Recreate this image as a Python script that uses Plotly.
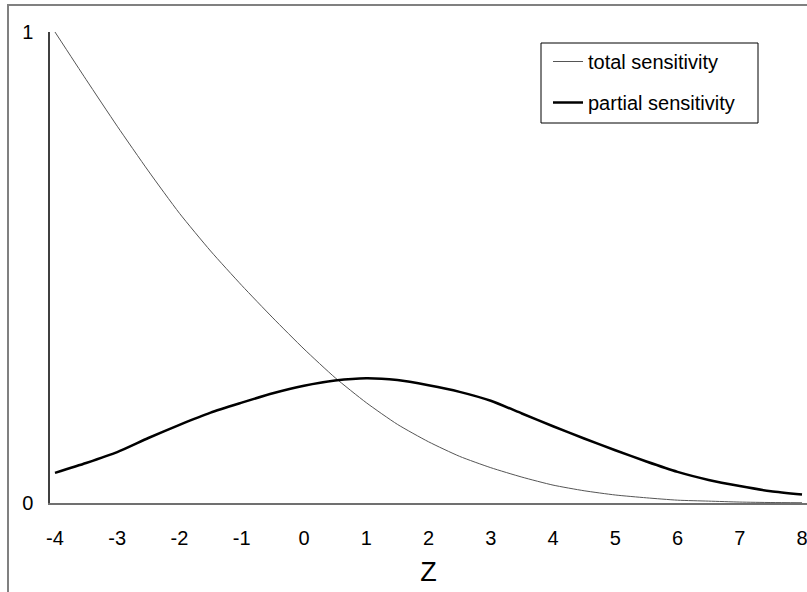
import plotly.graph_objects as go

z = [-4, -3.5, -3, -2.5, -2, -1.5, -1, -0.5, 0, 0.5, 1, 1.5, 2, 2.5, 3, 3.5,
     4, 4.5, 5, 5.5, 6, 6.5, 7, 7.5, 8]
total_sensitivity = [1.0, 0.899, 0.800, 0.705, 0.615, 0.535, 0.462, 0.393, 0.327, 0.266,
                     0.213, 0.167, 0.130, 0.099, 0.075, 0.055, 0.038, 0.026, 0.017,
                     0.011, 0.006, 0.004, 0.002, 0.001, 0.0005]
partial_sensitivity = [0.064, 0.085, 0.108, 0.138, 0.166, 0.192, 0.213, 0.233, 0.249,
                       0.260, 0.265, 0.261, 0.250, 0.236, 0.217, 0.190, 0.163, 0.137,
                       0.112, 0.088, 0.066, 0.049, 0.036, 0.025, 0.018]
x_ticks = list(range(-4, 9))
y_ticks = [0, 1]

FONT = "Liberation Sans, Arial, sans-serif"

fig = go.Figure()
fig.add_trace(go.Scatter(x=z, y=total_sensitivity, mode="lines", name="total sensitivity",
                         line=dict(color="#555555", width=1, shape="spline", smoothing=0.6),
                         legendgroup="a"))
fig.add_trace(go.Scatter(x=z, y=partial_sensitivity, mode="lines", name="partial sensitivity",
                         line=dict(color="#000000", width=2.5, shape="spline", smoothing=0.6),
                         legendgroup="b"))

fig.update_layout(
    width=807, height=592,
    margin=dict(l=50, r=0, t=32, b=89),
    paper_bgcolor="white", plot_bgcolor="white",
    font=dict(family=FONT, color="black", size=20),
    showlegend=True,
    legend=dict(x=(548 - 50) / 757, y=(503 - 42) / 471, xanchor="left", yanchor="top",
                bgcolor="rgba(0,0,0,0)", borderwidth=0,
                font=dict(family=FONT, size=20, color="black"),
                traceorder="grouped", tracegroupgap=12, itemwidth=30),
    xaxis=dict(range=[-4.08, 8.08], tickvals=x_ticks, ticktext=[str(v) for v in x_ticks],
               showgrid=False, zeroline=False, showline=True, linecolor="#707070", linewidth=2,
               ticks="", ticklabelstandoff=16, tickfont=dict(size=20),
               ticklabeloverflow="allow",
               title=dict(text="Z", font=dict(size=27), standoff=14)),
    yaxis=dict(range=[0, 1], tickvals=y_ticks, ticktext=["0", "1"],
               showgrid=False, zeroline=False, showline=True, linecolor="#404040", linewidth=1.5,
               ticks="", ticklabelstandoff=11, tickfont=dict(size=20)),
    shapes=[
        dict(type="rect", xref="paper", yref="paper",
             x0=(541 - 50) / 757, x1=(758 - 50) / 757,
             y0=(503 - 123) / 471, y1=(503 - 43) / 471,
             line=dict(color="black", width=1), fillcolor="rgba(0,0,0,0)"),
        dict(type="rect", xref="paper", yref="paper",
             x0=(8 - 50) / 757, x1=(815 - 50) / 757,
             y0=(503 - 600) / 471, y1=(503 - 5) / 471,
             line=dict(color="#808080", width=2), fillcolor="rgba(0,0,0,0)"),
    ],
)

fig.write_html("out.html", config={"displayModeBar": False},
               post_script="document.body.style.margin='0';")
